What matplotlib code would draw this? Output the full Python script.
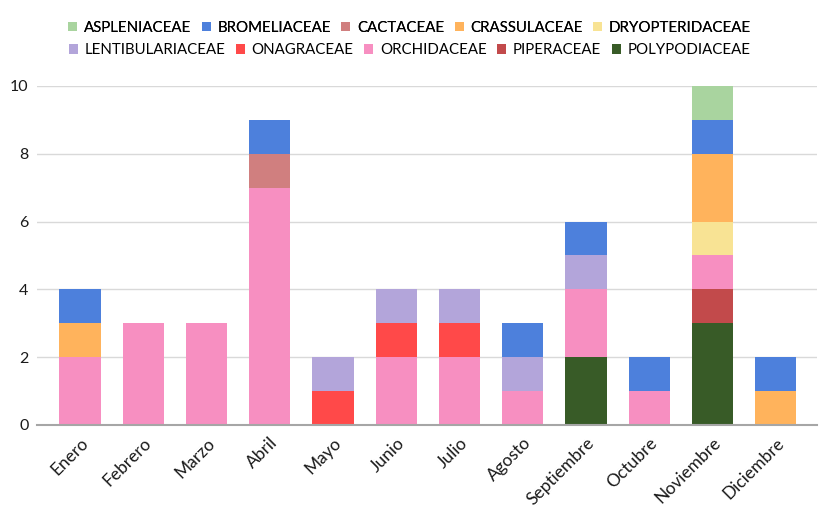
import matplotlib.pyplot as plt
import numpy as np

plt.rcParams['font.family'] = ['Lato', 'DejaVu Sans']

months = ['Enero', 'Febrero', 'Marzo', 'Abril', 'Mayo', 'Junio', 'Julio',
          'Agosto', 'Septiembre', 'Octubre', 'Noviembre', 'Diciembre']

# families in legend order (stacked bottom-up in reverse)
families = ['ASPLENIACEAE', 'BROMELIACEAE', 'CACTACEAE', 'CRASSULACEAE', 'DRYOPTERIDACEAE',
            'LENTIBULARIACEAE', 'ONAGRACEAE', 'ORCHIDACEAE', 'PIPERACEAE', 'POLYPODIACEAE']

aspleniaceae     = [0, 0, 0, 0, 0, 0, 0, 0, 0, 0, 1, 0]
bromeliaceae     = [1, 0, 0, 1, 0, 0, 0, 1, 1, 1, 1, 1]
cactaceae        = [0, 0, 0, 1, 0, 0, 0, 0, 0, 0, 0, 0]
crassulaceae     = [1, 0, 0, 0, 0, 0, 0, 0, 0, 0, 2, 1]
dryopteridaceae  = [0, 0, 0, 0, 0, 0, 0, 0, 0, 0, 1, 0]
lentibulariaceae = [0, 0, 0, 0, 1, 1, 1, 1, 1, 0, 0, 0]
onagraceae       = [0, 0, 0, 0, 1, 1, 1, 0, 0, 0, 0, 0]
orchidaceae      = [2, 3, 3, 7, 0, 2, 2, 1, 2, 1, 1, 0]
piperaceae       = [0, 0, 0, 0, 0, 0, 0, 0, 0, 0, 1, 0]
polypodiaceae    = [0, 0, 0, 0, 0, 0, 0, 0, 2, 0, 3, 0]

series = [aspleniaceae, bromeliaceae, cactaceae, crassulaceae, dryopteridaceae,
          lentibulariaceae, onagraceae, orchidaceae, piperaceae, polypodiaceae]

colors = ['#a9d49f', '#4d80dc', '#d07f7f', '#ffb35c', '#f8e394',
          '#b3a5da', '#ff4949', '#f78fc1', '#c24a4b', '#385b27']

fig = plt.figure(figsize=(8.31, 5.17), dpi=100)
ax = fig.add_axes([0.0445, 0.178, 0.9385, 0.6557])

x = np.arange(len(months))
bottom = np.zeros(len(months))
handles = {}
for name, vals, col in reversed(list(zip(families, series, colors))):
    vals = np.array(vals, dtype=float)
    b = ax.bar(x, vals, 0.65, bottom=bottom, color=col, label=name, zorder=3)
    handles[name] = b
    bottom += vals

ax.set_xlim(-0.68, len(months) - 0.35)
ax.set_ylim(0, 10)
ax.set_yticks([0, 2, 4, 6, 8, 10])
ax.yaxis.grid(True, color='#d9d9d9', linewidth=1, zorder=0)
ax.set_axisbelow(True)
for s in ['top', 'right', 'left']:
    ax.spines[s].set_visible(False)
ax.spines['bottom'].set_color('#a6a6a6')
ax.spines['bottom'].set_linewidth(1.5)
ax.spines['bottom'].set_zorder(4)
ax.tick_params(length=0, colors='#1a1a1a')
ax.tick_params(axis='y', labelsize=11.5, pad=6)
ax.set_xticks(x)
ax.set_xticklabels(months, rotation=45, ha='right', rotation_mode='anchor', fontsize=12.5)
ax.tick_params(axis='x', pad=7)

# two legend rows, each flowing independently
legend_kw = dict(ncol=5, loc='center', frameon=False, fontsize=10.8,
                 handlelength=0.6, handleheight=0.6, handletextpad=0.45,
                 columnspacing=0.7, borderaxespad=0, borderpad=0)
row1 = families[:5]
row2 = families[5:]
leg1 = fig.legend([handles[n] for n in row1], row1,
                  bbox_to_anchor=(0.493, 0.946), **legend_kw)
fig.legend([handles[n] for n in row2], row2,
           bbox_to_anchor=(0.493, 0.903), **legend_kw)
fig.add_artist(leg1)

fig.savefig('out.png', dpi=100)
